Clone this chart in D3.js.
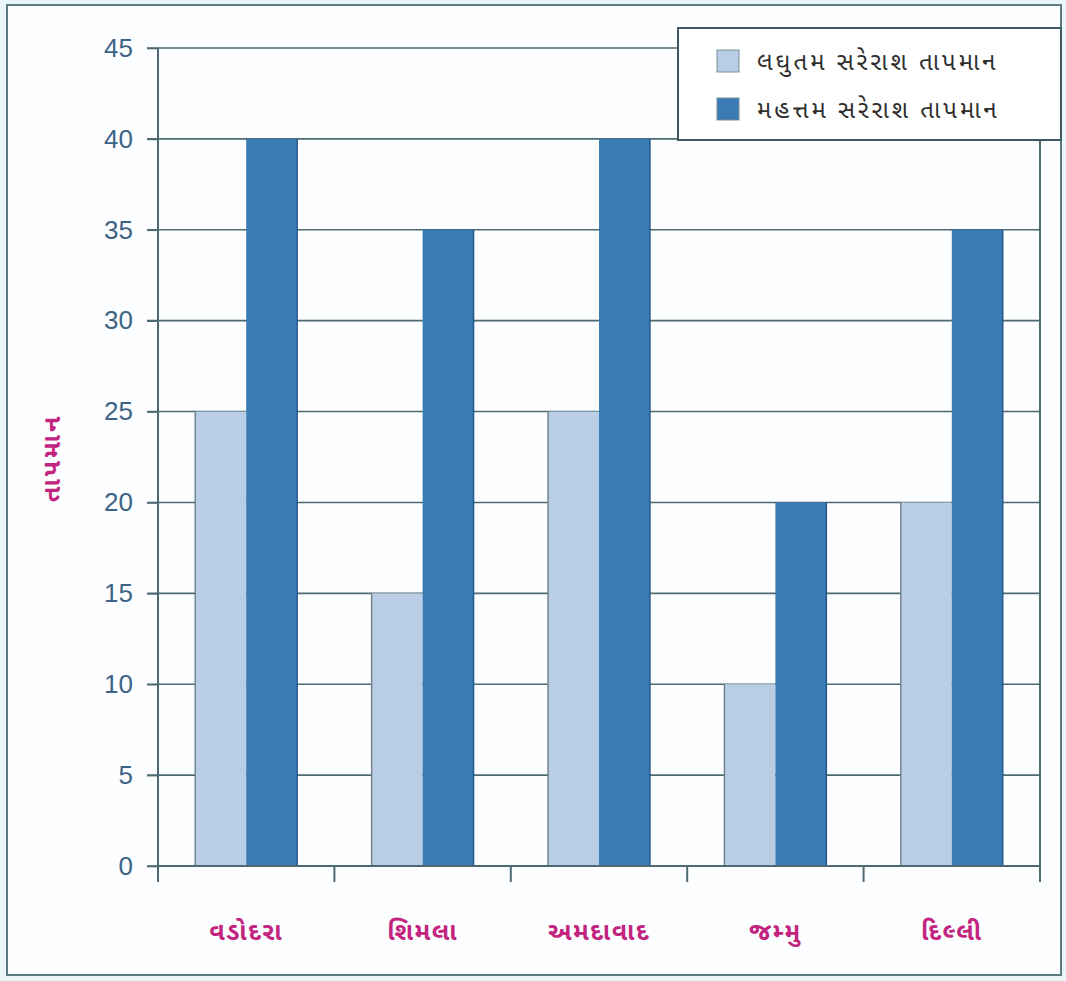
<!DOCTYPE html>
<html>
<head>
<meta charset="utf-8">
<script src="https://cdn.jsdelivr.net/npm/d3@7/dist/d3.min.js"></script>
<style>
  html, body { margin: 0; padding: 0; background: #eaf6fa; }
  svg { display: block; }
</style>
</head>
<body>
<svg id="chart" width="1066" height="981"></svg>
<script>
const categories = ["વડોદરા", "શિમલા", "અમદાવાદ", "જમ્મુ", "દિલ્લી"];
const minTemps = [25, 15, 25, 10, 20];
const maxTemps = [40, 35, 40, 20, 35];
const seriesNames = ["લઘુતમ સરેરાશ તાપમાન", "મહત્તમ સરેરાશ તાપમાન"];
const yTicks = [0, 5, 10, 15, 20, 25, 30, 35, 40, 45];
const yTitle = "તાપમાન";

(function () {
const colors = ["#b9cde4", "#3a7bb5"];
const textBlue = "#3c6486";
const axisCol = "#4d6a72";
const magenta = "#c2247f";
const gujFont = "'Noto Sans Gujarati', 'Lohit Gujarati', 'Noto Sans', sans-serif";

const svg = d3.select("#chart");

// outer frame
svg.append("rect").attr("x", 7).attr("y", 5).attr("width", 1054).attr("height", 970)
  .attr("fill", "#fdfeff").attr("stroke", "#5c7a82").attr("stroke-width", 2);

const pL = 158, pR = 1040, pT = 48, pB = 866;

const x = d3.scaleBand().domain(categories).range([pL, pR]).paddingInner(0).paddingOuter(0);
const x1 = d3.scaleBand().domain([0, 1]).range([0, x.bandwidth()]).paddingOuter(0.73).paddingInner(0);
const y = d3.scaleLinear().domain([0, 45]).range([pB, pT]);

const data = categories.map((c, i) => ({ cat: c, vals: [minTemps[i], maxTemps[i]] }));

// gridlines
svg.append("g").selectAll("line").data(yTicks).join("line")
  .attr("x1", pL - 11).attr("x2", pR)
  .attr("y1", d => y(d)).attr("y2", d => y(d))
  .attr("stroke", axisCol).attr("stroke-width", 1.6);

// bars
const groups = svg.append("g").selectAll("g").data(data).join("g")
  .attr("transform", d => `translate(${x(d.cat)},0)`);
groups.selectAll("rect").data(d => d.vals.map((v, k) => ({ v, k }))).join("rect")
  .attr("x", d => x1(d.k))
  .attr("width", x1.bandwidth())
  .attr("y", d => y(d.v))
  .attr("height", d => y(0) - y(d.v))
  .attr("fill", d => colors[d.k]);
groups.selectAll("line.edge").data(d => d.vals.map((v, k) => ({ v, k }))).join("line")
  .attr("class", "edge")
  .attr("x1", d => d.k === 0 ? x1(d.k) : x1(d.k) + x1.bandwidth())
  .attr("x2", d => d.k === 0 ? x1(d.k) : x1(d.k) + x1.bandwidth())
  .attr("y1", d => y(d.v)).attr("y2", y(0))
  .attr("stroke", d => d.k === 0 ? "#6a7f88" : "#23578a").attr("stroke-width", 1.4);

// y axis
const yAxis = svg.append("g").attr("transform", `translate(${pL},0)`)
  .call(d3.axisLeft(y).tickValues(yTicks).tickSize(11).tickPadding(14));
yAxis.select(".domain").attr("stroke", axisCol).attr("stroke-width", 2)
  .attr("d", `M0,${pT}V${pB + 16}`);
yAxis.selectAll(".tick line").attr("stroke", axisCol).attr("stroke-width", 1.6);
yAxis.selectAll(".tick text").attr("fill", textBlue)
  .style("font-family", "Arial, 'Liberation Sans', sans-serif").style("font-size", "26px");

// right border line
svg.append("line").attr("x1", pR).attr("x2", pR).attr("y1", pT).attr("y2", pB + 16)
  .attr("stroke", axisCol).attr("stroke-width", 2);

// x axis ticks at band boundaries
const bounds = categories.map(c => x(c)).concat([pR]);
svg.append("g").selectAll("line").data(bounds).join("line")
  .attr("x1", d => d).attr("x2", d => d).attr("y1", pB).attr("y2", pB + 16)
  .attr("stroke", axisCol).attr("stroke-width", 2);
svg.append("line").attr("x1", pL).attr("x2", pR).attr("y1", pB).attr("y2", pB)
  .attr("stroke", axisCol).attr("stroke-width", 2);

// category labels
svg.append("g").selectAll("text").data(categories).join("text")
  .attr("x", d => x(d) + x.bandwidth() / 2)
  .attr("y", 940)
  .attr("text-anchor", "middle")
  .attr("fill", magenta)
  .style("font-family", gujFont).style("font-weight", "bold").style("font-size", "25px")
  .style("letter-spacing", "1.5px")
  .text(d => d);

// y title
svg.append("text")
  .attr("transform", "translate(60,458) rotate(-90)")
  .attr("text-anchor", "middle")
  .attr("fill", magenta)
  .style("font-family", gujFont).style("font-weight", "bold").style("font-size", "25px")
  .style("letter-spacing", "3px")
  .text(yTitle);

// legend
const lg = svg.append("g");
lg.append("rect").attr("x", 678).attr("y", 28).attr("width", 383).attr("height", 112)
  .attr("fill", "#ffffff").attr("stroke", "#3e5962").attr("stroke-width", 2);
const items = lg.selectAll("g").data(seriesNames).join("g")
  .attr("transform", (d, i) => `translate(717,${50 + i * 48})`);
items.append("rect").attr("width", 22).attr("height", 22)
  .attr("fill", (d, i) => colors[i]).attr("stroke", "#7d8f98").attr("stroke-width", 1);
items.append("text").attr("x", 40).attr("y", 20)
  .attr("fill", "#2e2e2e")
  .style("font-family", gujFont).style("font-size", "24px")
  .style("letter-spacing", "3px")
  .text(d => d);
})();
</script>
</body>
</html>
